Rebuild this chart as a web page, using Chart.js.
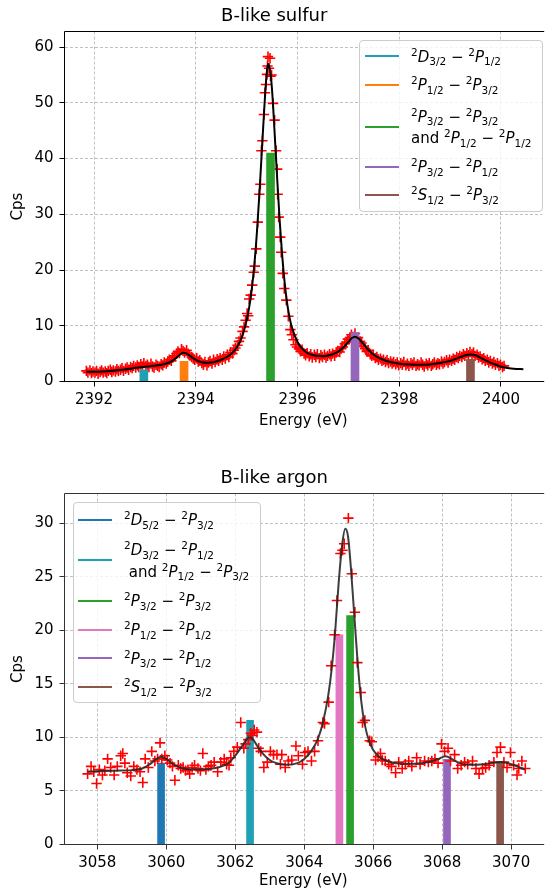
<!DOCTYPE html>
<html><head><meta charset="utf-8">
<script src="https://cdn.jsdelivr.net/npm/chart.js@4.4.1/dist/chart.umd.min.js"></script>
<style>
html,body{margin:0;padding:0;background:#fff;width:549px;height:893px;overflow:hidden;font-family:"DejaVu Sans",sans-serif;}
.wrap{position:absolute;left:0;}
canvas{display:block;}
.legend{position:absolute;background:rgba(255,255,255,0.8);border:1px solid #cccccc;border-radius:4px;box-sizing:border-box;}
.h{position:absolute;height:2px;width:34px;}
.t{position:absolute;white-space:nowrap;font-size:15px;line-height:20px;height:20px;color:#000;}
.t i{font-style:italic;}
.t sup{font-size:10.5px;line-height:0;vertical-align:0;position:relative;top:-6px;}
.t sub{font-size:10.5px;line-height:0;vertical-align:0;position:relative;top:3.5px;}
</style></head><body>
<div class="wrap" style="top:0"><canvas id="c1" width="549" height="446"></canvas></div>
<div class="wrap" style="top:446px"><canvas id="c2" width="549" height="447"></canvas></div>
<div id="leg1" class="legend" style="left:359px;top:40px;width:184px;height:172px"></div>
<div id="leg2" class="legend" style="left:73px;top:502px;width:188px;height:201px"></div>
<script>
// ---------------- DATA: B-like sulfur ----------------
const sulfurEnergy = [2391.85,2391.88,2391.92,2391.95,2391.98,2392.02,2392.05,2392.08,2392.12,2392.15,2392.18,2392.22,2392.25,2392.28,2392.32,2392.35,2392.38,2392.42,2392.45,2392.48,2392.52,2392.55,2392.58,2392.62,2392.65,2392.68,2392.72,2392.75,2392.78,2392.82,2392.85,2392.88,2392.92,2392.95,2392.98,2393.02,2393.05,2393.08,2393.12,2393.15,2393.18,2393.22,2393.25,2393.28,2393.32,2393.35,2393.38,2393.42,2393.45,2393.48,2393.52,2393.55,2393.58,2393.62,2393.65,2393.68,2393.72,2393.75,2393.78,2393.82,2393.85,2393.88,2393.92,2393.95,2393.98,2394.02,2394.05,2394.08,2394.12,2394.15,2394.18,2394.22,2394.25,2394.28,2394.32,2394.35,2394.38,2394.42,2394.45,2394.48,2394.52,2394.55,2394.58,2394.62,2394.65,2394.68,2394.72,2394.75,2394.78,2394.82,2394.85,2394.88,2394.92,2394.95,2394.98,2395.01,2395.03,2395.05,2395.08,2395.11,2395.14,2395.16,2395.19,2395.22,2395.25,2395.27,2395.29,2395.31,2395.34,2395.36,2395.38,2395.40,2395.41,2395.42,2395.44,2395.46,2395.47,2395.49,2395.52,2395.55,2395.58,2395.60,2395.61,2395.63,2395.66,2395.68,2395.71,2395.74,2395.78,2395.82,2395.86,2395.89,2395.92,2395.96,2395.99,2396.03,2396.06,2396.09,2396.13,2396.16,2396.19,2396.23,2396.26,2396.29,2396.33,2396.36,2396.39,2396.43,2396.46,2396.49,2396.53,2396.56,2396.59,2396.63,2396.66,2396.69,2396.73,2396.76,2396.79,2396.83,2396.86,2396.89,2396.93,2396.96,2396.99,2397.03,2397.06,2397.09,2397.13,2397.16,2397.19,2397.23,2397.26,2397.29,2397.33,2397.36,2397.39,2397.43,2397.46,2397.49,2397.53,2397.56,2397.59,2397.63,2397.66,2397.69,2397.73,2397.76,2397.79,2397.83,2397.86,2397.89,2397.93,2397.96,2397.99,2398.03,2398.06,2398.09,2398.13,2398.16,2398.19,2398.23,2398.26,2398.29,2398.33,2398.36,2398.39,2398.43,2398.46,2398.49,2398.53,2398.56,2398.59,2398.63,2398.66,2398.69,2398.73,2398.76,2398.79,2398.83,2398.86,2398.89,2398.93,2398.96,2398.99,2399.03,2399.06,2399.09,2399.13,2399.16,2399.19,2399.23,2399.26,2399.29,2399.33,2399.36,2399.39,2399.43,2399.46,2399.49,2399.53,2399.56,2399.59,2399.63,2399.66,2399.69,2399.73,2399.76,2399.79,2399.83,2399.86,2399.89,2399.93,2399.96,2399.99,2400.03,2400.06];
const sulfurCps = [1.9,1.6,2.0,1.5,1.8,1.6,1.9,1.4,1.7,2.0,1.6,1.8,1.5,1.9,2.1,1.7,2.0,1.8,2.2,1.9,2.1,2.4,1.9,2.3,2.5,2.1,2.6,2.4,2.8,2.5,2.9,2.6,3.1,2.7,3.3,2.8,3.0,2.6,3.2,2.7,2.5,3.0,2.8,2.6,3.1,2.9,3.4,3.2,3.6,3.9,3.7,4.3,4.6,5.0,5.4,5.1,5.8,5.5,5.2,5.6,5.0,4.7,4.4,4.1,3.9,4.2,3.6,3.8,3.3,3.0,3.5,2.9,3.4,3.7,3.2,3.9,3.5,4.0,3.7,4.2,3.9,4.5,4.1,4.8,4.4,5.2,5.0,5.6,6.0,6.5,7.2,7.8,9.0,9.8,11.0,12.2,11.8,14.8,15.5,17.3,19.6,20.7,23.8,28.6,33.6,35.4,41.4,43.2,47.9,51.8,53.3,55.1,56.6,58.3,56.2,58.0,54.8,55.0,49.9,46.9,41.4,38.1,33.6,29.5,25.9,23.2,19.4,16.7,14.6,11.7,9.3,8.4,7.5,6.6,6.2,5.9,5.4,5.7,5.0,4.7,5.1,4.5,4.9,4.3,4.8,4.4,4.9,4.2,4.7,4.4,4.8,4.3,4.6,4.9,4.5,5.0,4.6,5.2,5.5,5.3,5.9,6.2,6.8,7.1,7.6,7.9,8.4,8.0,8.6,7.7,7.9,7.2,6.9,6.3,5.9,5.4,5.6,4.9,4.6,4.8,4.2,4.4,3.9,4.1,3.7,3.9,3.5,3.8,3.3,3.6,3.2,3.5,3.1,3.4,2.9,3.3,3.0,3.5,2.9,3.2,2.8,3.3,3.0,3.4,2.8,3.1,2.9,3.4,3.0,2.7,3.2,2.9,3.3,2.8,3.1,3.4,3.0,3.3,3.1,3.6,3.2,3.5,3.8,3.4,3.9,3.7,4.1,3.9,4.4,4.2,4.6,4.4,4.9,4.6,5.1,4.7,5.3,4.9,5.2,4.6,4.8,4.3,4.5,4.0,4.2,3.7,3.9,3.4,3.7,3.2,3.5,3.0,3.3,2.8,3.0,2.6,2.8];
const sulfurFitEnergy = [2391.85,2392.0,2392.25,2392.5,2392.75,2393.0,2393.25,2393.4,2393.5,2393.6,2393.7,2393.75,2393.8,2393.85,2393.9,2394.0,2394.1,2394.2,2394.3,2394.4,2394.5,2394.6,2394.7,2394.8,2394.9,2394.95,2395.0,2395.05,2395.1,2395.15,2395.2,2395.25,2395.3,2395.35,2395.39,2395.42,2395.45,2395.48,2395.52,2395.56,2395.6,2395.65,2395.7,2395.75,2395.8,2395.85,2395.9,2396.0,2396.1,2396.2,2396.3,2396.4,2396.5,2396.6,2396.7,2396.8,2396.9,2397.0,2397.07,2397.13,2397.2,2397.3,2397.4,2397.5,2397.6,2397.7,2397.8,2397.9,2398.0,2398.2,2398.4,2398.6,2398.8,2399.0,2399.15,2399.3,2399.4,2399.5,2399.6,2399.7,2399.8,2399.9,2400.0,2400.1,2400.25,2400.44];
const sulfurFitCps = [1.75,1.75,1.85,2.05,2.35,2.65,2.9,3.2,3.5,4.1,4.9,5.15,5.1,4.85,4.5,3.9,3.5,3.35,3.4,3.6,3.9,4.35,5.0,6.0,7.8,9.2,11.0,13.3,16.5,20.8,26.5,33.5,41.5,49.5,54.8,57.0,56.3,54.5,49.5,43.0,36.5,28.8,22.5,17.5,13.8,11.2,9.4,7.1,5.8,5.1,4.75,4.6,4.55,4.65,4.9,5.35,6.1,7.1,7.8,8.05,7.7,6.7,5.6,4.8,4.25,3.85,3.55,3.35,3.2,3.05,3.0,3.05,3.3,3.7,4.2,4.7,4.85,4.7,4.25,3.8,3.35,3.0,2.65,2.45,2.3,2.2];
const sulfurLabels = [
  ['<sup>2</sup><i>D</i><sub>3/2</sub> − <sup>2</sup><i>P</i><sub>1/2</sub>'],
  ['<sup>2</sup><i>P</i><sub>1/2</sub> − <sup>2</sup><i>P</i><sub>3/2</sub>'],
  ['<sup>2</sup><i>P</i><sub>3/2</sub> − <sup>2</sup><i>P</i><sub>3/2</sub>', 'and <sup>2</sup><i>P</i><sub>1/2</sub> − <sup>2</sup><i>P</i><sub>1/2</sub>'],
  ['<sup>2</sup><i>P</i><sub>3/2</sub> − <sup>2</sup><i>P</i><sub>1/2</sub>'],
  ['<sup>2</sup><i>S</i><sub>1/2</sub> − <sup>2</sup><i>P</i><sub>3/2</sub>']
];
const sulfurLineEnergy = [2392.98, 2393.77, 2395.47, 2397.13, 2399.40];
const sulfurLineHeight = [2.1, 3.6, 41.0, 8.8, 4.0];
const sulfurXTicks = [2392, 2394, 2396, 2398, 2400];
const sulfurYTicks = [0, 10, 20, 30, 40, 50, 60];

// ---------------- DATA: B-like argon ----------------
const argonEnergy = [3057.72,3057.82,3057.90,3057.98,3058.06,3058.15,3058.22,3058.30,3058.39,3058.49,3058.58,3058.68,3058.74,3058.80,3058.87,3058.97,3059.06,3059.15,3059.24,3059.32,3059.39,3059.48,3059.58,3059.67,3059.75,3059.82,3059.87,3059.96,3060.03,3060.11,3060.18,3060.25,3060.35,3060.42,3060.49,3060.56,3060.63,3060.68,3060.75,3060.82,3060.92,3060.99,3061.06,3061.15,3061.22,3061.30,3061.39,3061.49,3061.58,3061.68,3061.75,3061.82,3061.87,3061.96,3062.06,3062.16,3062.25,3062.30,3062.38,3062.45,3062.49,3062.55,3062.63,3062.68,3062.74,3062.83,3062.93,3063.02,3063.11,3063.21,3063.31,3063.35,3063.45,3063.54,3063.64,3063.76,3063.83,3063.95,3064.02,3064.11,3064.21,3064.30,3064.40,3064.54,3064.59,3064.71,3064.78,3064.88,3064.95,3065.05,3065.11,3065.16,3065.28,3065.38,3065.47,3065.54,3065.64,3065.69,3065.76,3065.90,3065.96,3066.07,3066.14,3066.21,3066.26,3066.35,3066.45,3066.53,3066.65,3066.74,3066.84,3066.93,3067.03,3067.12,3067.26,3067.36,3067.49,3067.60,3067.70,3067.79,3067.88,3067.98,3068.07,3068.17,3068.24,3068.36,3068.45,3068.55,3068.65,3068.74,3068.88,3068.98,3069.07,3069.17,3069.26,3069.36,3069.50,3069.59,3069.69,3069.79,3069.88,3069.98,3070.07,3070.17,3070.22,3070.31,3070.41];
const argonCps = [6.6,7.3,6.8,5.7,7.0,6.5,6.9,8.0,7.2,6.5,7.3,8.3,8.5,7.6,6.7,6.4,7.3,7.0,6.8,5.8,8.0,7.2,8.7,7.8,8.0,9.5,8.0,8.3,7.9,7.6,7.3,6.0,7.4,7.1,7.2,6.9,7.0,6.6,7.2,7.4,7.1,6.9,8.5,7.0,7.3,7.4,7.7,6.8,7.7,8.0,7.5,7.4,8.1,8.7,9.1,11.4,9.0,9.4,9.8,10.4,10.2,10.7,10.5,9.0,8.7,7.2,7.7,8.7,8.4,8.4,7.5,8.4,7.2,7.8,7.9,9.2,8.3,7.5,8.6,8.7,7.8,8.7,9.7,11.4,11.3,13.3,16.7,19.6,22.8,27.2,27.5,28.1,30.5,25.3,21.7,17.0,14.2,11.4,11.6,9.7,9.6,7.9,8.2,8.5,7.9,7.8,7.5,7.3,6.7,7.7,7.1,7.5,7.8,7.3,8.1,7.5,7.8,7.7,7.8,8.0,7.6,9.4,8.7,9.0,7.8,8.4,7.1,7.4,7.7,7.5,7.8,7.1,6.6,7.1,7.2,7.4,7.7,8.6,9.1,7.7,7.2,8.6,7.4,6.5,7.1,7.8,7.1];
const argonFitEnergy = [3057.72,3058.0,3058.5,3059.0,3059.3,3059.5,3059.7,3059.85,3060.0,3060.2,3060.5,3060.8,3061.2,3061.5,3061.8,3062.0,3062.2,3062.4,3062.5,3062.6,3062.8,3063.0,3063.2,3063.5,3063.8,3064.0,3064.2,3064.4,3064.55,3064.7,3064.8,3064.9,3065.0,3065.1,3065.19,3065.27,3065.35,3065.45,3065.55,3065.65,3065.75,3065.9,3066.1,3066.4,3066.8,3067.2,3067.6,3067.9,3068.1,3068.3,3068.5,3068.8,3069.2,3069.5,3069.7,3070.0,3070.4];
const argonFitCps = [6.8,6.85,6.9,6.95,7.1,7.45,7.95,8.2,8.0,7.5,7.1,7.0,7.05,7.2,7.6,8.3,9.2,10.0,9.9,9.4,8.5,7.9,7.6,7.45,7.6,8.0,8.7,9.9,11.5,14.0,16.5,20.0,24.5,28.0,29.5,28.8,26.0,21.5,17.0,13.5,11.3,9.5,8.4,7.8,7.55,7.55,7.7,8.0,8.25,7.95,7.6,7.45,7.5,7.65,7.7,7.5,7.0];
const argonLabels = [
  ['<sup>2</sup><i>D</i><sub>5/2</sub> − <sup>2</sup><i>P</i><sub>3/2</sub>'],
  ['<sup>2</sup><i>D</i><sub>3/2</sub> − <sup>2</sup><i>P</i><sub>1/2</sub>', '&nbsp;and <sup>2</sup><i>P</i><sub>1/2</sub> − <sup>2</sup><i>P</i><sub>3/2</sub>'],
  ['<sup>2</sup><i>P</i><sub>3/2</sub> − <sup>2</sup><i>P</i><sub>3/2</sub>'],
  ['<sup>2</sup><i>P</i><sub>1/2</sub> − <sup>2</sup><i>P</i><sub>1/2</sub>'],
  ['<sup>2</sup><i>P</i><sub>3/2</sub> − <sup>2</sup><i>P</i><sub>1/2</sub>'],
  ['<sup>2</sup><i>S</i><sub>1/2</sub> − <sup>2</sup><i>P</i><sub>3/2</sub>']
];
const argonLineEnergy = [3059.85, 3062.43, 3065.33, 3065.02, 3068.14, 3069.68];
const argonLineHeight = [7.6, 11.6, 21.4, 19.6, 7.95, 7.7];
const argonXTicks = [3058, 3060, 3062, 3064, 3066, 3068, 3070];
const argonYTicks = [0, 5, 10, 15, 20, 25, 30];

// ---------------- STYLE ----------------
const sulfurColors = ['#20a0b4', '#ff7f0e', '#2ca02c', '#9467bd', '#8c564b'];
const argonColors = ['#1f77b4', '#20a0b4', '#2ca02c', '#e377c2', '#9467bd', '#8c564b'];
const FONT = 'DejaVu Sans';
Chart.defaults.font.family = FONT;
Chart.defaults.color = '#000';

function pts(xs, ys) { return xs.map((x, i) => ({x: x, y: ys[i]})); }

// left, top and bottom spines (the right spine lies outside the picture)
function framePlugin(color) {
  return {
    id: 'frame',
    afterDatasetsDraw(chart) {
      const {ctx, chartArea: a} = chart;
      ctx.save();
      ctx.strokeStyle = color;
      ctx.lineWidth = 1;
      ctx.beginPath();
      ctx.moveTo(a.right + 2, a.top);
      ctx.lineTo(a.left, a.top);
      ctx.lineTo(a.left, a.bottom);
      ctx.lineTo(a.right + 2, a.bottom);
      ctx.stroke();
      ctx.restore();
    }
  };
}

function makeChart(id, cfg) {
  const datasets = [];
  datasets.push({
    type: 'scatter', label: 'data', data: pts(cfg.ex, cfg.ey),
    borderColor: '#ff0000', backgroundColor: '#ff0000', pointStyle: 'cross',
    pointRadius: 5.2, pointBorderWidth: 1.6, pointHoverRadius: 5.2, showLine: false,
    order: cfg.scatterOrder
  });
  cfg.lineE.forEach((e, i) => {
    datasets.push({
      type: 'bar', label: 'line' + i, data: [{x: e, y: cfg.lineH[i]}],
      backgroundColor: cfg.colors[i], borderWidth: 0, barThickness: cfg.barW,
      grouped: false, order: cfg.barOrder
    });
  });
  datasets.push({
    type: 'line', label: 'fit', data: pts(cfg.fx, cfg.fy),
    borderColor: cfg.fitColor, borderWidth: 2, pointRadius: 0, fill: false,
    cubicInterpolationMode: 'monotone', order: 0
  });
  const gridOpts = {offset: false, color: '#b0b0b0', lineWidth: 0.8, drawTicks: true, tickLength: 5, tickColor: cfg.frameColor, tickWidth: 1};
  return new Chart(document.getElementById(id), {
    type: 'scatter',
    data: {datasets: datasets},
    options: {
      responsive: false, animation: false, devicePixelRatio: 1,
      layout: {padding: {left: 0, right: 0.5, top: 0, bottom: 0}},
      plugins: {
        legend: {display: false}, tooltip: {enabled: false},
        title: {display: true, text: cfg.title, color: '#000', font: {size: 18, weight: 'normal', family: FONT, lineHeight: 1.2},
                padding: {top: cfg.titleTop, bottom: cfg.titleBottom}}
      },
      scales: {
        x: {
          type: 'linear', min: cfg.xmin, max: cfg.xmax, offset: false,
          afterBuildTicks: s => { s.ticks = cfg.xticks.map(v => ({value: v})); },
          afterFit: s => { s.height = cfg.xAxisH; },
          ticks: {callback: v => String(v), font: {size: 15}, color: '#000', padding: 4.5, maxRotation: 0, autoSkip: false},
          grid: gridOpts,
          border: {display: false, dash: [3, 2]},
          title: {display: true, text: 'Energy (eV)', color: '#000', font: {size: 15, lineHeight: 1.2}, padding: {top: 0, bottom: cfg.xTitlePad}}
        },
        y: {
          type: 'linear', min: 0, max: cfg.ymax, offset: false,
          afterBuildTicks: s => { s.ticks = cfg.yticks.map(v => ({value: v})); },
          afterFit: s => { s.width = 64.5; },
          ticks: {callback: v => String(v), font: {size: 15}, color: '#000', padding: 6, autoSkip: false},
          grid: gridOpts,
          border: {display: false, dash: [3, 2]},
          title: {display: true, text: 'Cps', color: '#000', font: {size: 15, lineHeight: 1.2}, padding: {top: 9, bottom: 0}}
        }
      }
    },
    plugins: [framePlugin(cfg.frameColor)]
  });
}

makeChart('c1', {
  title: 'B-like sulfur', ex: sulfurEnergy, ey: sulfurCps, fx: sulfurFitEnergy, fy: sulfurFitCps,
  lineE: sulfurLineEnergy, lineH: sulfurLineHeight, colors: sulfurColors, barW: 8,
  xmin: 2391.42, xmax: 2400.81, ymax: 62.8, xticks: sulfurXTicks, yticks: sulfurYTicks,
  titleTop: 5.5, titleBottom: 4.4, xAxisH: 64.5, xTitlePad: 15.5,
  fitColor: '#000000', frameColor: '#000000', scatterOrder: 2, barOrder: 1
});
makeChart('c2', {
  title: 'B-like argon', ex: argonEnergy, ey: argonCps, fx: argonFitEnergy, fy: argonFitCps,
  lineE: argonLineEnergy, lineH: argonLineHeight, colors: argonColors, barW: 7,
  xmin: 3057.05, xmax: 3070.9, ymax: 32.8, xticks: argonXTicks, yticks: argonYTicks,
  titleTop: 21.2, titleBottom: 4.7, xAxisH: 48.5, xTitlePad: 2.5,
  fitColor: 'rgba(40,40,40,0.9)', frameColor: '#333333', scatterOrder: 1, barOrder: 2
});

// ---------------- LEGENDS (HTML text) ----------------
function buildLegend(elId, labels, colors, rows, handleLeft, textLeft) {
  const el = document.getElementById(elId);
  labels.forEach((lines, i) => {
    const h = document.createElement('div');
    h.className = 'h';
    h.style.left = handleLeft + 'px';
    h.style.top = Math.round(rows[i].handle - 1) + 'px';
    h.style.background = colors[i];
    el.appendChild(h);
    lines.forEach((txt, j) => {
      const t = document.createElement('div');
      t.className = 't';
      t.style.left = textLeft + 'px';
      t.style.top = (rows[i].lines[j] - 10) + 'px';
      t.innerHTML = txt;
      el.appendChild(t);
    });
  });
}
// legend row layout (relative to legend box), style only
const leg1Rows = [{handle: 15.2, lines: [15.7]}, {handle: 43.5, lines: [44]}, {handle: 85.5, lines: [75.5, 97]}, {handle: 125.5, lines: [126]}, {handle: 153.8, lines: [154.3]}];
const leg2Rows = [{handle: 16.5, lines: [17]}, {handle: 56.8, lines: [47, 68.7]}, {handle: 97.5, lines: [98]}, {handle: 126.5, lines: [127]}, {handle: 155.2, lines: [155.7]}, {handle: 183.8, lines: [184.3]}];
buildLegend('leg1', sulfurLabels, sulfurColors, leg1Rows, 5, 51);
buildLegend('leg2', argonLabels, argonColors, leg2Rows, 4, 50);
</script>
</body></html>
